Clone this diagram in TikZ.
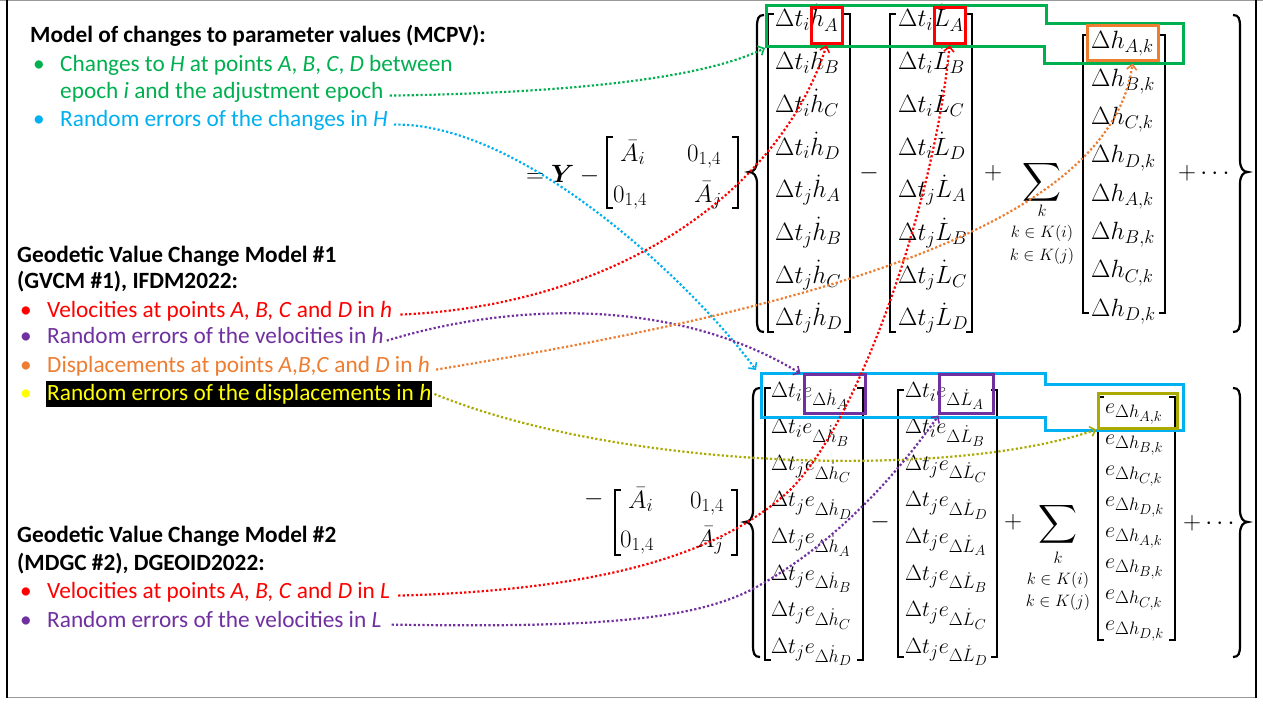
\RequirePackage{fix-cm}
\documentclass[tikz,border=0pt]{standalone}
\usepackage{amsmath,amssymb}
\usepackage[no-math]{fontspec}
\setmainfont{Carlito}
\usetikzlibrary{arrows.meta}

% larger sub/superscripts for the matrix entries
\DeclareMathSizes{25}{25}{18.5}{14}
\DeclareMathSizes{22}{22}{18}{14.5}

\definecolor{cGreen}{RGB}{0,176,80}
\definecolor{cCyan}{RGB}{0,176,240}
\definecolor{cRed}{RGB}{255,0,0}
\definecolor{cPurple}{RGB}{112,48,160}
\definecolor{cOrange}{RGB}{237,125,49}
\definecolor{cOlive}{RGB}{170,170,0}
\definecolor{cYellow}{RGB}{255,255,0}

\tikzset{
  lbl/.style={anchor=base west, inner sep=0pt, font=\fontsize{23.3}{28}\selectfont},
  head/.style={lbl, font=\fontsize{23.3}{28}\selectfont\bfseries},
  mbig/.style={anchor=base west, inner sep=0pt, font=\fontsize{25}{29}\selectfont},
  msml/.style={anchor=base west, inner sep=0pt, font=\fontsize{22}{26}\selectfont},
  mlim/.style={inner sep=0pt, font=\fontsize{16.5}{19}\selectfont},
  brk/.style={line width=1.7pt},
  brc/.style={line width=2.2pt},
  hl/.style={draw=#1, line width=3pt, inner sep=0pt},
  conn/.style={draw=#1, line width=2.2pt, dash pattern=on 2.2pt off 2.2pt,
    -{Straight Barb[length=5pt,width=10pt,line width=1.6pt]}},
}

% curly brace: x, top, middle, bottom
\newcommand{\drawLBrace}[4]{%
  \draw[brc] ({#1+7},#2) .. controls ({#1+1},#2) and (#1,{#2+4}) .. (#1,{#2+12})
    -- (#1,{#3-12}) .. controls (#1,{#3-4}) and ({#1-3},#3) .. ({#1-8},#3)
    .. controls ({#1-3},#3) and (#1,{#3+4}) .. (#1,{#3+12})
    -- (#1,{#4-12}) .. controls (#1,{#4-4}) and ({#1+1},#4) .. ({#1+7},#4);}
\newcommand{\drawRBrace}[4]{%
  \draw[brc] ({#1-7},#2) .. controls ({#1-1},#2) and (#1,{#2+4}) .. (#1,{#2+12})
    -- (#1,{#3-12}) .. controls (#1,{#3-4}) and ({#1+3},#3) .. ({#1+8},#3)
    .. controls ({#1+3},#3) and (#1,{#3+4}) .. (#1,{#3+12})
    -- (#1,{#4-12}) .. controls (#1,{#4-4}) and ({#1-1},#4) .. ({#1-7},#4);}
% square brackets of a matrix: left x, right x, top, bottom
\newcommand{\drawBrackets}[4]{%
  \draw[brk] ({#1+6},#3) -- (#1,#3) -- (#1,#4) -- ({#1+6},#4);
  \draw[brk] ({#2-6},#3) -- (#2,#3) -- (#2,#4) -- ({#2-6},#4);}

\begin{document}
\begin{tikzpicture}[x=1pt,y=-1pt]
\useasboundingbox (0,0) rectangle (1263,704);
\fill[white] (0,0) rectangle (1263,704);

% frame
\draw[black!40, line width=1.2pt] (0,0.6) -- (1263,0.6);
\draw[black!40, line width=1.2pt] (7,697.5) -- (1256,697.5);
\draw[black, line width=1.8pt] (7,0) -- (7,698);
\draw[black, line width=1.4pt] (1256,0) -- (1256,698);

% ---------- explanatory text ----------
\node[head] (h1) at (30,42) {Model of changes to parameter values (MCPV):};
\node[lbl, text=cGreen] at (33,71) {•};
\node[lbl, text=cGreen] (tG1) at (60,71) {Changes to \textit{H} at points \textit{A}, \textit{B}, \textit{C}, \textit{D} between};
\node[lbl, text=cGreen] (tG2) at (60,98) {epoch \textit{i} and the adjustment epoch};
\node[lbl, text=cCyan] at (33,126) {•};
\node[lbl, text=cCyan] (tC) at (60,126) {Random errors of the changes in \textit{H}};

\node[head] (h2) at (17,262) {Geodetic Value Change Model \#1};
\node[head] (h2b) at (17,288) {(GVCM \#1), IFDM2022:};
\node[lbl, text=cRed] at (20,317) {•};
\node[lbl, text=cRed] (tR1) at (47,317) {Velocities at points \textit{A, B, C} and \textit{D} in \textit{h}};
\node[lbl, text=cPurple] at (20,343) {•};
\node[lbl, text=cPurple] (tP1) at (47,343) {Random errors of the velocities in \textit{h}};
\node[lbl, text=cOrange] at (20,372) {•};
\node[lbl, text=cOrange] (tO) at (47,372) {Displacements at points \textit{A},\textit{B},\textit{C} and \textit{D} in \textit{h}};
\node[lbl, text=cYellow] at (20,400) {•};
\node[lbl, text=cYellow, fill=black, inner xsep=1pt, text height=19pt, text depth=7pt] (tY) at (46,400) {Random errors of the displacements in \textit{h}};

\node[head] (h3) at (17,542) {Geodetic Value Change Model \#2};
\node[head] (h3b) at (17,570) {(MDGC \#2), DGEOID2022:};
\node[lbl, text=cRed] at (20,598) {•};
\node[lbl, text=cRed] (tR2) at (47,598) {Velocities at points \textit{A, B, C} and \textit{D} in \textit{L}};
\node[lbl, text=cPurple] at (20,627) {•};
\node[lbl, text=cPurple] (tP2) at (47,627) {Random errors of the velocities in \textit{L}};

% ---------- upper equation ----------
\node[mbig] (eqY) at (526,182) {$=\boldsymbol{Y}-{}$};
\drawBrackets{607}{738}{137}{208}
\node[mbig] (a11) at (620,161) {$\bar{A}_i$};
\node[mbig] (a12) at (687,161) {$0_{1,4}$};
\node[mbig] (a21) at (613,202) {$0_{1,4}$};
\node[mbig] (a22) at (694,202) {$\bar{A}_j$};

\drawLBrace{757}{15}{172}{332}
\drawRBrace{1240}{15}{172}{332}
\drawBrackets{768}{850}{14}{332}
\drawBrackets{890}{972}{14}{332}
\drawBrackets{1083}{1165}{35}{313}

\foreach \ix/\px [count=\n from 0] in {i/A,i/B,i/C,i/D,j/A,j/B,j/C,j/D}{
  \node[mbig] (ta\n) at (775,{27+42.7*\n}) {$\Delta t_\ix\dot{h}_\px$};
  \node[mbig] (tb\n) at (898,{27+42.7*\n}) {$\Delta t_\ix\dot{L}_\px$};
}
\foreach \px [count=\n from 0] in {A,B,C,D,A,B,C,D}{
  \node[mbig] (tc\n) at (1091,{48+38.3*\n}) {$\Delta h_{\px,k}$};
}
\node[mbig, anchor=center] (opT1) at (869,173) {$-$};
\node[mbig, anchor=center] (opT2) at (993,173) {$+$};
\node[inner sep=0pt, font=\fontsize{27}{31}\selectfont] (sumT) at (1042,182) {$\displaystyle\sum$};
\node[mlim] (kT0) at (1042,211) {$k$};
\node[mlim] (kT1) at (1042,233) {$k\in K(i)$};
\node[mlim] (kT2) at (1042,256) {$k\in K(j)$};
\node[mbig, anchor=west] (opT3) at (1178,173) {$+\cdots$};

% ---------- lower equation ----------
\node[mbig] (eqM) at (584,505) {$-$};
\drawBrackets{615}{737}{490}{555}
\node[mbig] (b11) at (628,508) {$\bar{A}_i$};
\node[mbig] (b12) at (690,508) {$0_{1,4}$};
\node[mbig] (b21) at (620,547) {$0_{1,4}$};
\node[mbig] (b22) at (696,547) {$\bar{A}_j$};

\drawLBrace{753}{388}{522}{657}
\drawRBrace{1240}{388}{522}{657}
\drawBrackets{765}{863}{388}{660}
\drawBrackets{898}{997}{390}{657}
\drawBrackets{1098}{1175}{397}{640}

\foreach \ix/\px [count=\n from 0] in {i/A,i/B,j/C,j/D,j/A,j/B,j/C,j/D}{
  \node[msml] (ba\n) at (771,{397+36.6*\n}) {$\Delta t_\ix e_{\Delta\dot{h}_\px}$};
  \node[msml] (bb\n) at (905,{397+36.6*\n}) {$\Delta t_\ix e_{\Delta\dot{L}_\px}$};
}
\foreach \px [count=\n from 0] in {A,B,C,D,A,B,C,D}{
  \node[msml] (bc\n) at (1105,{413+31*\n}) {$e_{\Delta h_{\px,k}}$};
}
\node[mbig, anchor=center] (opB1) at (880,522) {$-$};
\node[mbig, anchor=center] (opB2) at (1013,522) {$+$};
\node[inner sep=0pt, font=\fontsize{27}{31}\selectfont] (sumB) at (1058,524) {$\displaystyle\sum$};
\node[mlim] (kB0) at (1058,558) {$k$};
\node[mlim] (kB1) at (1058,580) {$k\in K(i)$};
\node[mlim] (kB2) at (1058,602) {$k\in K(j)$};
\node[mbig, anchor=west] (opB3) at (1183,523) {$+\cdots$};

% ---------- highlight frames ----------
\draw[cGreen, line width=3pt] (766,5) -- (1046,5) -- (1046,23) -- (1183,23)
  -- (1183,63) -- (1044,63) -- (1044,46) -- (766,46) -- cycle;
\coordinate (gTip) at (765,48);
\node[hl=cRed, minimum width=31pt, minimum height=36pt] (bxHA) at (826.5,25) {};
\node[hl=cRed, minimum width=31pt, minimum height=36pt] (bxLA) at (949.5,25) {};
\node[hl=cOrange, minimum width=71pt, minimum height=35pt] (bxDH) at (1122.5,42.5) {};

\draw[cCyan, line width=3pt] (761,373) -- (1045,373) -- (1045,384) -- (1183,384)
  -- (1183,430) -- (1045,430) -- (1045,417) -- (761,417) -- cycle;
\coordinate (cTip) at (756,370);
\node[hl=cPurple, minimum width=61pt, minimum height=39pt] (bxEHA) at (834.5,393.5) {};
\node[hl=cPurple, minimum width=54pt, minimum height=39pt] (bxELA) at (966,393.5) {};
\node[hl=cOlive, minimum width=79pt, minimum height=35pt] (bxEDH) at (1137.5,410.5) {};

% ---------- connectors ----------
\draw[conn=cGreen] ([xshift=6pt]tG2.mid east) .. controls (560,93) and (700,80) .. (gTip);
\draw[conn=cCyan] ([xshift=6pt,yshift=-1pt]tC.mid east) .. controls (520,122) and (690,280) .. (cTip);
\draw[conn=cRed] ([xshift=8pt]tR1.mid east) .. controls (620,305) and (780,190) .. ([yshift=-1pt]bxHA.south);
\draw[conn=cRed] ([xshift=8pt]tR2.mid east) .. controls (600,590) and (720,555) .. (790,490)
  .. controls (860,420) and (935,200) .. ([yshift=-1pt]bxLA.south);
\draw[conn=cPurple] ([xshift=3pt]tP1.mid east) .. controls (520,300) and (680,300) .. ([shift={(-2pt,-1pt)}]bxEHA.north west);
\draw[conn=cOrange] ([xshift=6pt]tO.mid east) .. controls (800,310) and (1110,230) .. ([shift={(10pt,-2pt)}]bxDH.south);
\draw[conn=cOlive] ([xshift=2pt]tY.east) .. controls (620,470) and (950,480) .. (bxEDH.south west);
\draw[conn=cPurple] ([xshift=10pt]tP2.mid east) .. controls (600,628) and (700,620) .. (760,585)
  .. controls (840,540) and (900,470) .. ([shift={(1pt,-1pt)}]bxELA.south west);
\end{tikzpicture}
\end{document}
